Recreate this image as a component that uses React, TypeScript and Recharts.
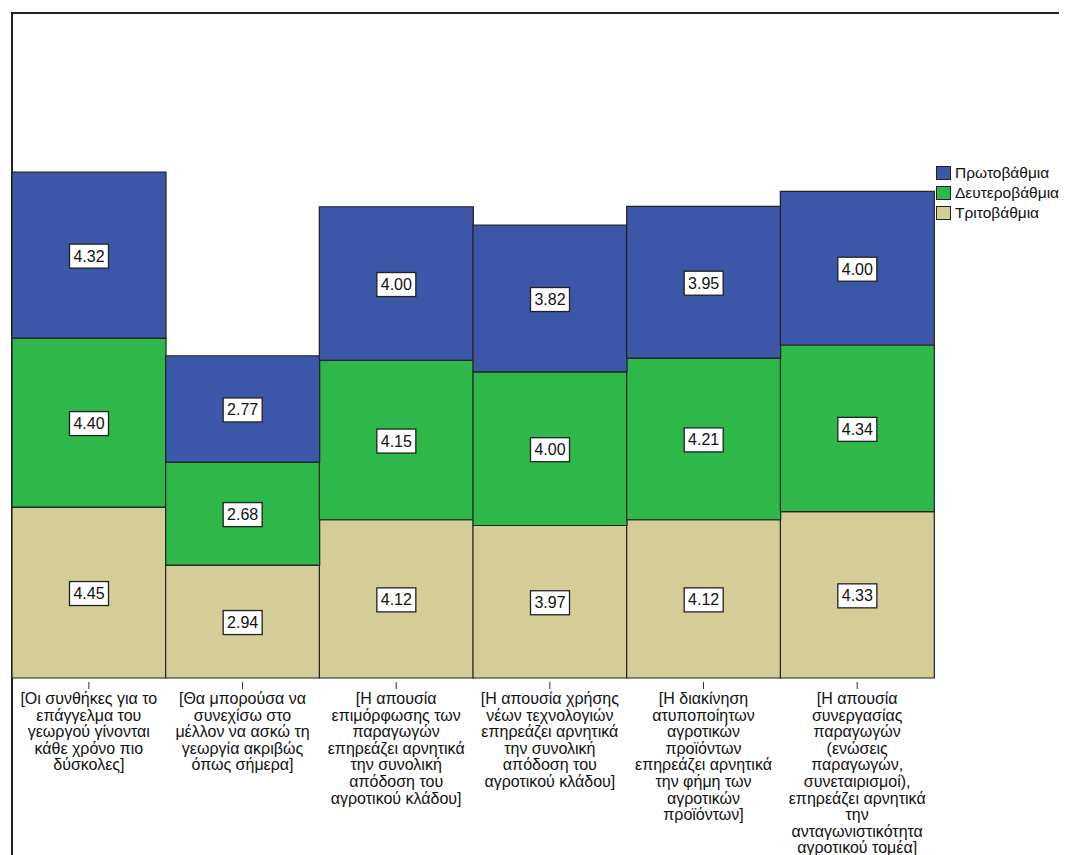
import React from 'react';
import { BarChart, Bar, XAxis, YAxis, LabelList } from 'recharts';

const categories = [
  '[Οι συνθήκες για το\nεπάγγελμα του\nγεωργού γίνονται\nκάθε χρόνο πιο\nδύσκολες]',
  '[Θα μπορούσα να\nσυνεχίσω στο\nμέλλον να ασκώ τη\nγεωργία ακριβώς\nόπως σήμερα]',
  '[Η απουσία\nεπιμόρφωσης των\nπαραγωγών\nεπηρεάζει αρνητικά\nτην συνολική\nαπόδοση του\nαγροτικού κλάδου]',
  '[Η απουσία χρήσης\nνέων τεχνολογιών\nεπηρεάζει αρνητικά\nτην συνολική\nαπόδοση του\nαγροτικού κλάδου]',
  '[Η διακίνηση\nατυποποίητων\nαγροτικών\nπροϊόντων\nεπηρεάζει αρνητικά\nτην φήμη των\nαγροτικών\nπροϊόντων]',
  '[Η απουσία\nσυνεργασίας\nπαραγωγών\n(ενώσεις\nπαραγωγών,\nσυνεταιρισμοί),\nεπηρεάζει αρνητικά\nτην\nανταγωνιστικότητα\nαγροτικού τομέα]',
];

const protovathmia = [4.32, 2.77, 4.0, 3.82, 3.95, 4.0];
const deuterovathmia = [4.4, 2.68, 4.15, 4.0, 4.21, 4.34];
const tritovathmia = [4.45, 2.94, 4.12, 3.97, 4.12, 4.33];

const seriesNames = ['Πρωτοβάθμια', 'Δευτεροβάθμια', 'Τριτοβάθμια'];
const seriesColors = ['#3c56a8', '#2eb84a', '#d4cd98'];

const data = categories.map((name, i) => ({
  name,
  p: protovathmia[i],
  d: deuterovathmia[i],
  t: tritovathmia[i],
}));

const FONT = '"Liberation Sans", Arial, sans-serif';

const ValueBox = (props: any) => {
  const { x, y, width, height, value } = props;
  const cx = x + width / 2;
  const cy = y + height / 2 + 1;
  return (
    <g>
      <rect x={cx - 19.5} y={cy - 12} width={39} height={24} fill="#fff" stroke="#222" strokeWidth={1.3} />
      <text x={cx} y={cy} dy={5.5} textAnchor="middle" fontSize={16} fontFamily={FONT} fill="#111">
        {Number(value).toFixed(2)}
      </text>
    </g>
  );
};

const CategoryTick = (props: any) => {
  const { x, y, payload } = props;
  const lines = String(payload.value).split('\n');
  return (
    <g>
      <line x1={x} x2={x} y1={y + 4} y2={y + 11} stroke="#333" strokeWidth={1} />
      <text x={x} y={y} textAnchor="middle" fontSize={16} fontFamily={FONT} fill="#111">
        {lines.map((line, i) => (
          <tspan key={i} x={x} dy={i === 0 ? 26 : 16.6}>
            {line}
          </tspan>
        ))}
      </text>
    </g>
  );
};

export default function App() {
  return (
    <div style={{ position: 'relative', width: 1059, height: 847, overflow: 'hidden', background: '#fff' }}>
      <div
        style={{
          position: 'absolute',
          left: 3,
          top: 4,
          width: 1200,
          height: 1000,
          border: '2px solid #222',
          boxSizing: 'border-box',
        }}
      />
      <div style={{ position: 'absolute', left: 0, top: 0 }}>
        <BarChart
          width={1059}
          height={847}
          data={data}
          barCategoryGap={0}
          margin={{ top: 4, right: 133, bottom: 0, left: 4 }}
        >
          <XAxis
            dataKey="name"
            interval={0}
            height={177}
            axisLine={false}
            tickLine={false}
            tickSize={0}
            tickMargin={0}
            tick={<CategoryTick />}
          />
          <YAxis hide domain={[0, 17.34]} />
          <Bar dataKey="t" stackId="a" fill={seriesColors[2]} stroke="#222" strokeWidth={1.2} isAnimationActive={false}>
            <LabelList dataKey="t" content={<ValueBox />} />
          </Bar>
          <Bar dataKey="d" stackId="a" fill={seriesColors[1]} stroke="#222" strokeWidth={1.2} isAnimationActive={false}>
            <LabelList dataKey="d" content={<ValueBox />} />
          </Bar>
          <Bar dataKey="p" stackId="a" fill={seriesColors[0]} stroke="#222" strokeWidth={1.2} isAnimationActive={false}>
            <LabelList dataKey="p" content={<ValueBox />} />
          </Bar>
        </BarChart>
      </div>
      <div style={{ position: 'absolute', left: 928, top: 155, fontFamily: FONT, fontSize: 15.5, color: '#111' }}>
        {seriesNames.map((n, i) => (
          <div key={n} style={{ display: 'flex', alignItems: 'center', height: 20 }}>
            <span
              style={{
                display: 'inline-block',
                width: 13,
                height: 12,
                background: seriesColors[i],
                border: '1.5px solid #222',
                marginRight: 4,
              }}
            />
            <span>{n}</span>
          </div>
        ))}
      </div>
    </div>
  );
}
